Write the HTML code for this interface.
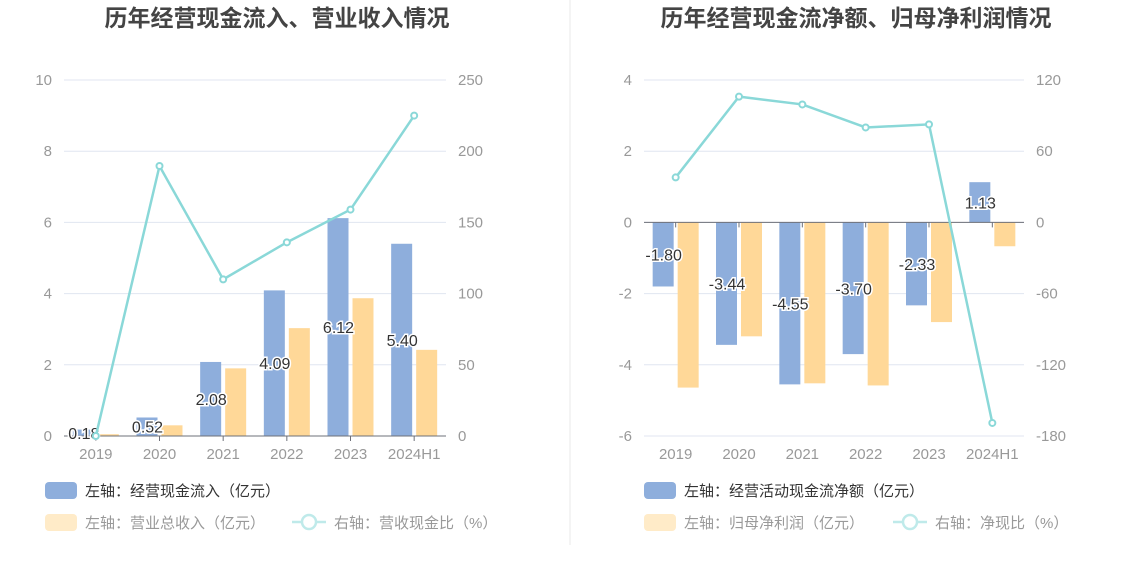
<!DOCTYPE html>
<html><head><meta charset="utf-8"><style>
body{margin:0;background:#fff;font-family:"Liberation Sans","Noto Sans CJK SC",sans-serif;}
svg text{font-family:"Liberation Sans","Noto Sans CJK SC",sans-serif;}
</style></head><body>
<svg id="s" width="1134" height="582">
<line x1="570" y1="0" x2="570" y2="545" stroke="#e8e8e8"/>
</svg>
<script>
const cats=["2019","2020","2021","2022","2023","2024H1"];
const inflow=[0.18,0.52,2.08,4.09,6.12,5.40];
const revenue=[0.05,0.30,1.90,3.03,3.87,2.42];
const ratio=[0,189.6,110,136,159,225];
const leftTicksA=[0,2,4,6,8,10];
const rightTicksA=[0,50,100,150,200,250];
const netCash=[-1.80,-3.44,-4.55,-3.70,-2.33,1.13];
const netProfit=[-4.64,-3.20,-4.52,-4.58,-2.80,-0.67];
const netRatio=[37.9,106,99.4,80,82.6,-169];
const leftTicksB=[-6,-4,-2,0,2,4];
const rightTicksB=[-180,-120,-60,0,60,120];

const NS="http://www.w3.org/2000/svg";
const svg=document.getElementById('s');
function mk(tag,attrs,parent){const e=document.createElementNS(NS,tag);for(const k in attrs)e.setAttribute(k,attrs[k]);(parent||svg).appendChild(e);return e;}
function txt(x,y,s,attrs){const t=mk('text',Object.assign({x:x,y:y},attrs));t.textContent=s;return t;}

function chart(cfg){
  const x0=cfg.x0,x1=cfg.x1,yTop=80,yBot=436;
  const n=cats.length,cw=(x1-x0)/n;
  const cx=i=>x0+cw*(i+0.5);
  const yL=v=>yBot-(v-cfg.lmin)/(cfg.lmax-cfg.lmin)*(yBot-yTop);
  const yR=v=>yBot-(v-cfg.rmin)/(cfg.rmax-cfg.rmin)*(yBot-yTop);
  const t=txt((x0+x1)/2+22,26,cfg.title,{'text-anchor':'middle','font-size':'23','font-weight':'bold',fill:'#444'});
  
  
  cfg.lt.forEach(v=>{
    const g=mk('line',{x1:x0,x2:x1,y1:yL(v),y2:yL(v),stroke:'#e0e6f1'});
    
    
    const l=txt(x0-12,yL(v)+5,String(v),{'text-anchor':'end','font-size':'15',fill:'#999'});
    
    
  });
  cfg.rt.forEach(v=>{
    const l=txt(x1+12,yR(v)+5,String(v),{'font-size':'15',fill:'#999'});
    
    
  });
  const y0=yL(0);
  cats.forEach((c,i)=>{
    const b=cfg.blue[i],o=cfg.orange[i];
    const rb=mk('rect',{x:cx(i)-23,y:Math.min(yL(b),y0),width:21,height:Math.abs(yL(b)-y0),fill:'#8eaedc'});
    
    
    const ro=mk('rect',{x:cx(i)+2,y:Math.min(yL(o),y0),width:21,height:Math.abs(yL(o)-y0),fill:'#ffd898'});
    
    
    const xl=txt(cx(i),yBot+23,c,{'text-anchor':'middle','font-size':'15',fill:'#999'});
    
    
    const tk=mk('line',{x1:cx(i),x2:cx(i),y1:y0,y2:y0+5,stroke:'#6e7079'});
    
    
  });
  const ax=mk('line',{x1:x0,x2:x1,y1:y0,y2:y0,stroke:'#6e7079'});
  
  
  cats.forEach((c,i)=>{
    const b=cfg.blue[i];
    const lb=txt(cx(i)-12,(yL(b)+y0)/2+6,b.toFixed(2),{'text-anchor':'middle','font-size':'16',fill:'#333',stroke:'#fff','stroke-width':'3','paint-order':'stroke'});
    
    
  });
  const pts=cfg.line.map((v,i)=>cx(i)+','+yR(v)).join(' ');
  const pl=mk('polyline',{points:pts,fill:'none',stroke:'#8ad8d8','stroke-width':'2.5'});
  
  
  cfg.line.forEach((v,i)=>{
    const p=mk('circle',{cx:cx(i),cy:yR(v),r:3,fill:'#fff',stroke:'#8ad8d8','stroke-width':'2'});
    
    
  });
  const lx=cfg.lx;
  const s1=mk('rect',{x:lx,y:482,width:32,height:17,rx:4,fill:'#8eaedc'});
  
  
  const t1=txt(lx+40,496,cfg.leg[0],{'font-size':'15',fill:'#333'});
  
  
  const s2=mk('rect',{x:lx,y:514,width:32,height:17,rx:4,fill:'#ffebc8'});
  
  
  const t2=txt(lx+40,528,cfg.leg[1],{'font-size':'15',fill:'#999'});
  
  
  const ll=mk('line',{x1:cfg.lx2,x2:cfg.lx2+34,y1:522,y2:522,stroke:'#bfeaea','stroke-width':'2.5'});
  
  
  const lc=mk('circle',{cx:cfg.lx2+17,cy:522,r:7,fill:'#fff',stroke:'#bfeaea','stroke-width':'2.5'});
  
  
  const t3=txt(cfg.lx2+42,528,cfg.leg[2],{'font-size':'15',fill:'#999'});
  
  
}
chart({key:'left',x0:64,x1:446,lmin:0,lmax:10,rmin:0,rmax:250,lt:leftTicksA,rt:rightTicksA,
  blue:inflow,orange:revenue,line:ratio,title:'历年经营现金流入、营业收入情况',
  lx:45,lx2:292,leg:['左轴：经营现金流入（亿元）','左轴：营业总收入（亿元）','右轴：营收现金比（%）']});
chart({key:'right',x0:644,x1:1024,lmin:-6,lmax:4,rmin:-180,rmax:120,lt:leftTicksB,rt:rightTicksB,
  blue:netCash,orange:netProfit,line:netRatio,title:'历年经营现金流净额、归母净利润情况',
  lx:644,lx2:893,leg:['左轴：经营活动现金流净额（亿元）','左轴：归母净利润（亿元）','右轴：净现比（%）']});
</script>
</body></html>
